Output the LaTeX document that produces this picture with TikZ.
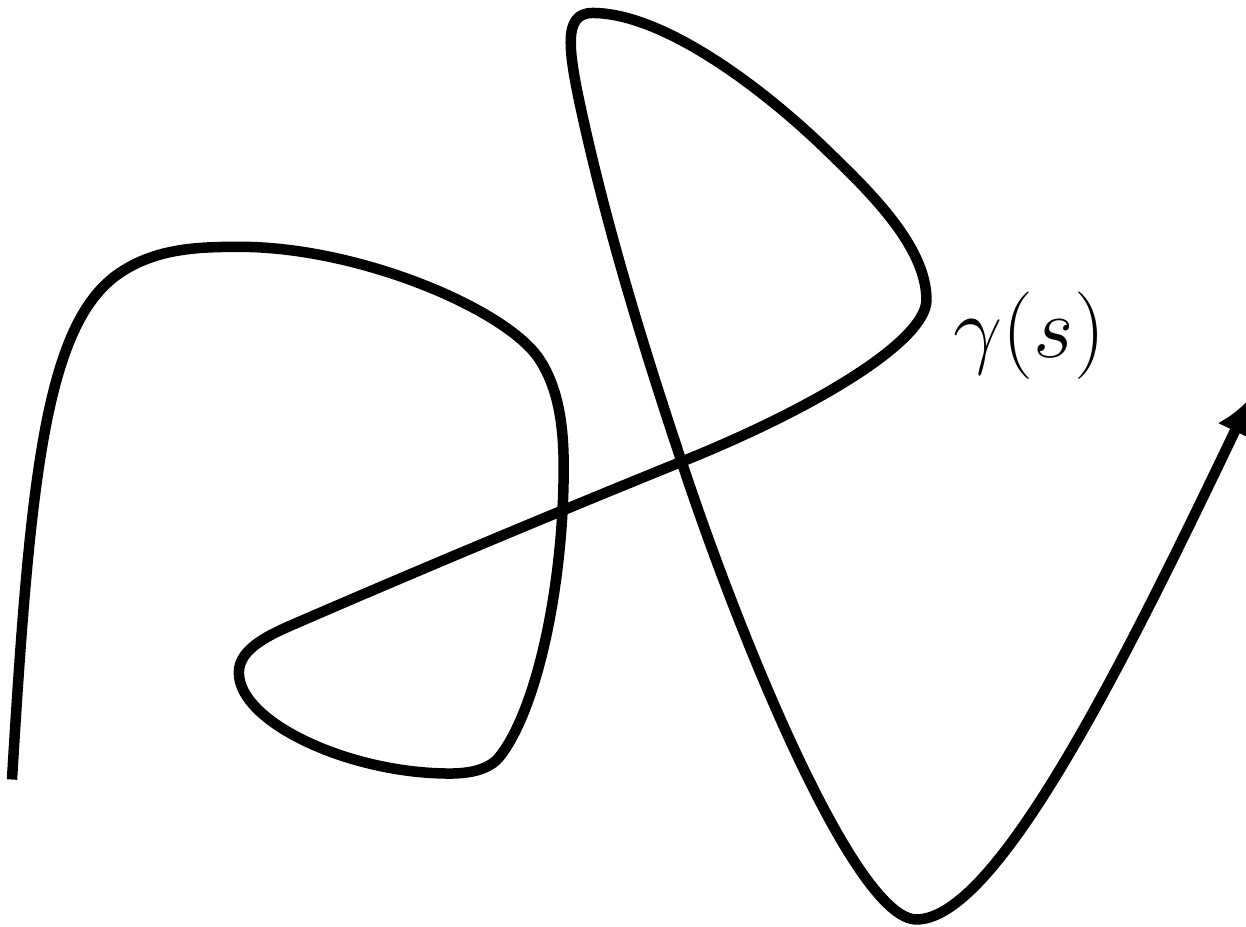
\documentclass[tikz,border=0pt]{standalone}
\usetikzlibrary{arrows.meta}
\tikzset{curve/.style={line width=0.105cm, line cap=butt, line join=round, -{Latex[length=0.38cm,width=0.38cm]}}}
\begin{document}
\begin{tikzpicture}
\useasboundingbox (0,0) rectangle (12.46,9.27);
\begin{scope}[x=0.01cm, y=-0.01cm, yshift=9.27cm]
\draw[curve] (12,780)
  .. controls (30,480) and (45,323) .. (120,273)
  .. controls (157,248) and (200,247) .. (240,247)
  .. controls (360,247) and (508,310) .. (540,360)
  .. controls (559,389) and (564,427) .. (564,467)
  .. controls (564,587) and (537,710) .. (500,757)
  .. controls (489,771) and (468,774) .. (450,774)
  .. controls (350,774) and (239,723) .. (239,673)
  .. controls (239,648) and (272,634) .. (300,622)
  .. controls (420,570) and (561,511) .. (682,462)
  .. controls (821,406) and (927,340) .. (927,300)
  .. controls (927,245) and (866,188) .. (827,150)
  .. controls (762,87) and (663,13) .. (593,13)
  .. controls (563,13) and (568,49) .. (583,117)
  .. controls (609,234) and (644,348) .. (682,462)
  .. controls (745,652) and (857,920) .. (917,920)
  .. controls (997,920) and (1123,667) .. (1252,397);
\node[anchor=base, inner sep=0pt] (lab) at (1030,358) {\fontsize{24.7}{30}\selectfont $\gamma(s)$};
\end{scope}
\end{tikzpicture}
\end{document}
